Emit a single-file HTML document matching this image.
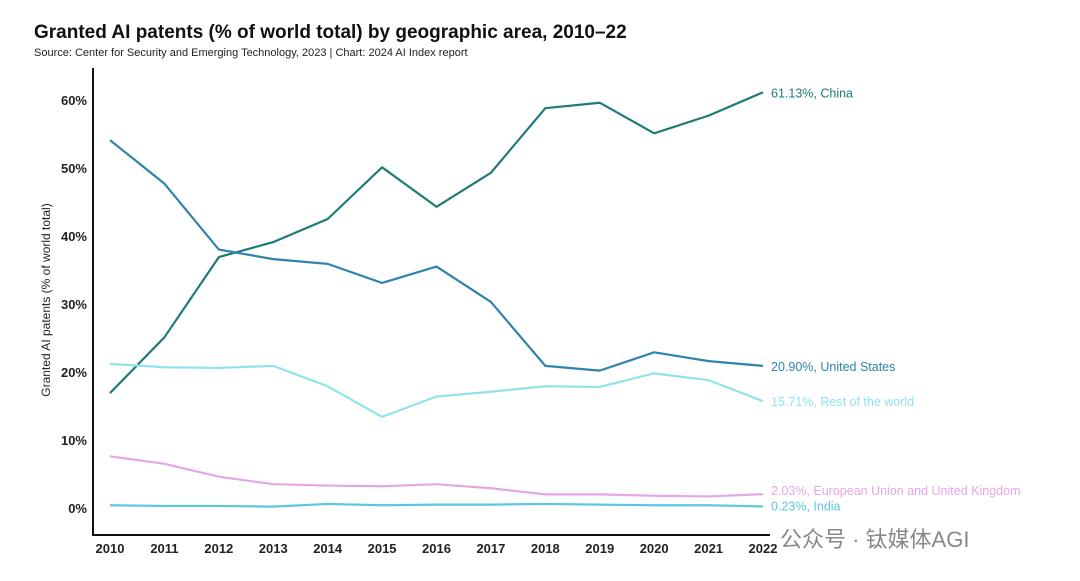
<!DOCTYPE html>
<html><head><meta charset="utf-8">
<style>
body{margin:0;background:#fff;width:1080px;height:581px;overflow:hidden;font-family:"Liberation Sans","Noto Sans CJK SC",sans-serif;}
#title{position:absolute;left:34px;top:22px;font-size:19px;font-weight:bold;color:#111;}
#sub{position:absolute;left:34px;top:47px;font-size:11px;color:#222;}
svg{position:absolute;left:0;top:0;}
</style></head><body>
<div id="title">Granted AI patents (% of world total) by geographic area, 2010–22</div>
<div id="sub">Source: Center for Security and Emerging Technology, 2023 | Chart: 2024 AI Index report</div>
<svg id="chart" width="1080" height="581"></svg>
<script>
const years=[2010,2011,2012,2013,2014,2015,2016,2017,2018,2019,2020,2021,2022];
const china=[16.9,25.1,36.9,39.1,42.5,50.1,44.3,49.3,58.8,59.6,55.1,57.7,61.13];
const us=[54.1,47.7,38.0,36.6,35.9,33.1,35.5,30.3,20.9,20.2,22.9,21.6,20.90];
const rest=[21.2,20.7,20.6,20.9,17.9,13.4,16.4,17.1,17.9,17.8,19.8,18.8,15.71];
const eu=[7.6,6.5,4.6,3.5,3.3,3.2,3.5,2.9,2.0,2.0,1.8,1.7,2.03];
const india=[0.4,0.3,0.3,0.2,0.6,0.4,0.5,0.5,0.6,0.5,0.4,0.4,0.23];
const yTicks=[0,10,20,30,40,50,60];
const series=[
 {name:'china',vals:china,color:'#1e7b78',label:'61.13%, China',dy:5},
 {name:'united-states',vals:us,color:'#2f84ad',label:'20.90%, United States',dy:5},
 {name:'rest-of-world',vals:rest,color:'#8fe4ec',label:'15.71%, Rest of the world',dy:5},
 {name:'eu-uk',vals:eu,color:'#e6a6e6',label:'2.03%, European Union and United Kingdom',dy:1},
 {name:'india',vals:india,color:'#5cc8de',label:'0.23%, India',dy:4}];
const NS='http://www.w3.org/2000/svg';
const svg=document.getElementById('chart');
const x=i=>110+i*(763-110)/(years.length-1);
const y=v=>508-v*(408/60);
function mk(t,a,txt){const e=document.createElementNS(NS,t);for(const k in a)e.setAttribute(k,a[k]);if(txt!==undefined)e.textContent=txt;svg.appendChild(e);return e;}
const ax=mk('line',{x1:93,y1:68,x2:93,y2:535,stroke:'#111','stroke-width':2});


const bx=mk('line',{x1:92,y1:535,x2:770,y2:535,stroke:'#111','stroke-width':2});


yTicks.forEach(t=>{const e=mk('text',{x:87,y:y(t)+5,'text-anchor':'end','font-size':13,'font-weight':'bold',fill:'#222'},t+'%');

});
years.forEach((yr,i)=>{const e=mk('text',{x:x(i),y:553,'text-anchor':'middle','font-size':13,'font-weight':'bold',fill:'#222'},yr);

});
const yt=mk('text',{x:0,y:0,transform:'translate(50,300) rotate(-90)','text-anchor':'middle','font-size':12,fill:'#222'},'Granted AI patents (% of world total)');


series.forEach(s=>{
 const p=mk('polyline',{points:s.vals.map((v,i)=>x(i)+','+y(v)).join(' '),fill:'none',stroke:s.color,'stroke-width':2.2,'stroke-linejoin':'round'});
 
 
 const last=s.vals.length-1;
 const l=mk('text',{x:771,y:y(s.vals[last])+s.dy,'font-size':12.5,fill:s.color},s.label);
 
 
});
const w=mk('text',{x:780,y:547,'font-size':22,fill:'#888'},'公众号 · 钛媒体AGI');


</script>
</body></html>
